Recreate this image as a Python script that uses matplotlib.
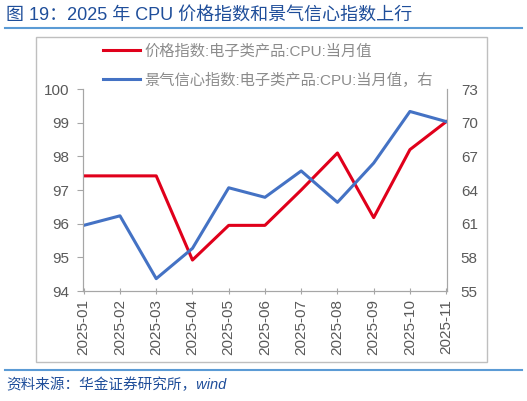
import matplotlib as mpl
mpl.use('Agg')
import matplotlib.pyplot as plt
from matplotlib.patches import Rectangle
from matplotlib.lines import Line2D

plt.rcParams['font.family'] = ['Liberation Sans', 'Noto Sans CJK SC', 'DejaVu Sans']

months = ['2025-01', '2025-02', '2025-03', '2025-04', '2025-05', '2025-06',
          '2025-07', '2025-08', '2025-09', '2025-10', '2025-11']
price_idx = [97.42, 97.42, 97.42, 94.92, 95.95, 95.95, 97.0, 98.1, 96.18, 98.2, 99.03]
conf_idx = [60.85, 61.7, 56.1, 58.8, 64.2, 63.35, 65.7, 62.9, 66.4, 71.0, 70.1]

label_price = '价格指数:电子类产品:CPU:当月值'
label_conf = '景气信心指数:电子类产品:CPU:当月值，右'

red = '#E0001B'
blue = '#4472C4'
grey = '#595959'

fig = plt.figure(figsize=(5.27, 4.01), dpi=100)
ax = fig.add_axes([0.1575, 0.2743, 0.6905, 0.5037])
ax2 = ax.twinx()

x = range(len(months))
ax.plot(x, price_idx, color=red, lw=2.2, zorder=3)
ax2.plot(x, conf_idx, color=blue, lw=2.2, zorder=2)

ax.set_xlim(-0.02, len(months) - 1 + 0.02)
ax.set_ylim(94, 100)
ax.set_yticks(range(94, 101))
ax2.set_ylim(55, 73)
ax2.set_yticks(range(55, 74, 3))
ax.set_xticks(list(x))
ax.set_xticklabels(months, rotation=90)

for a in (ax, ax2):
    for s in a.spines.values():
        s.set_color('#A6A6A6')
    a.spines['top'].set_visible(False)
    a.tick_params(colors='#A6A6A6', labelcolor=grey, labelsize=11, length=4)
ax.tick_params(axis='x', length=4, direction='inout')
ax2.tick_params(axis='y', length=0, pad=10)
ax.tick_params(axis='y', pad=6)

handles = [Line2D([], [], color=red, lw=2.2), Line2D([], [], color=blue, lw=2.2)]
fig.legend(handles, [label_price, label_conf], loc='upper left',
           bbox_to_anchor=(0.17, 0.925), frameon=False, fontsize=11,
           labelcolor='#8C8C8C', handlelength=2.4, labelspacing=0.95,
           handletextpad=0.3)

# frame around chart
fig.add_artist(Rectangle((0.069, 0.097), 0.855, 0.81, transform=fig.transFigure,
                         fill=False, edgecolor='#BFBFBF', lw=1))

fig.text(0.012, 0.962, '图 19：2025 年 CPU 价格指数和景气信心指数上行', color='#1F4E9A',
         fontsize=13, va='center', ha='left')
fig.add_artist(Line2D([0.01, 0.99], [0.93, 0.93], transform=fig.transFigure,
                      color='#5B9BD5', lw=1.5))
fig.add_artist(Line2D([0.01, 0.99], [0.077, 0.077], transform=fig.transFigure,
                      color='#5B9BD5', lw=1.5))
fig.text(0.012, 0.04, '资料来源：华金证券研究所，wind', color='#1F4E9A', fontsize=10.5,
         style='italic', va='center', ha='left')

fig.savefig('out.png', dpi=100)
